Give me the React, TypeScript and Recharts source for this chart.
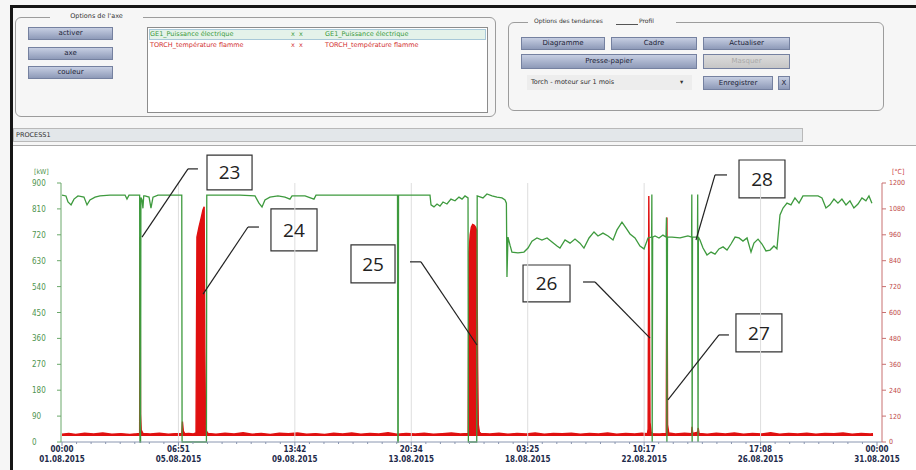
import { Area, ComposedChart, Line, ReferenceArea, ReferenceLine, XAxis, YAxis } from "recharts";

// time axis in hours from 01.08.2015 00:00 to 31.08.2015 00:00
const HOURS = 720;
const timeLabels = ["00:00", "06:51", "13:42", "20:34", "03:25", "10:17", "17:08", "00:00"];
const dateLabels = ["01.08.2015", "05.08.2015", "09.08.2015", "13.08.2015", "18.08.2015", "22.08.2015", "26.08.2015", "31.08.2015"];
const kwTicks = [0, 90, 180, 270, 360, 450, 540, 630, 720, 810, 900];
const tempTicks = [0, 120, 240, 360, 480, 600, 720, 840, 960, 1080, 1200];

// GE1_Puissance électrique [kW] : [hour, kW]
const power: [number, number][] = [
  [0, 858], [3.5, 855], [5.3, 834], [8, 824], [10.6, 844], [14.1, 855], [19.4, 851], [22.1, 824],
  [24.7, 841], [29.2, 851], [33.6, 855], [42.4, 858], [55.7, 858], [57.4, 844], [59.2, 858],
  [68.6, 858], [68.9, 0], [69.4, 0], [69.7, 850], [70.7, 841], [71.5, 812], [72.2, 855], [73.3, 855],
  [76.9, 851], [78.6, 813], [80.4, 851], [84.8, 858], [105.8, 858], [106.1, 0], [127.6, 0], [127.9, 858],
  [157.2, 858], [170.5, 855], [174, 830], [176.7, 817], [179.3, 841], [183.7, 851], [190.8, 855],
  [197, 851], [201.4, 844], [203.2, 855], [214.7, 855], [222.6, 844], [224.4, 858], [296.4, 858],
  [296.7, 0], [297, 0], [297.3, 858], [325.1, 858], [326, 824], [328.6, 817], [331.3, 827], [333.9, 820],
  [336.6, 834], [340.1, 827], [343.6, 844], [347.2, 838], [350.7, 851], [353.4, 844], [356, 855],
  [358.7, 848], [359, 0], [366.4, 0], [366.8, 855], [371.9, 848], [375.4, 862], [379.9, 855],
  [384.3, 851], [388.7, 848], [391.4, 841], [392.6, 830], [393.1, 573], [394, 712], [395.8, 684],
  [397.5, 660], [402.8, 657], [408.1, 660], [411.7, 674], [415.2, 698], [419.6, 709], [424, 702],
  [428.5, 709], [432.9, 695], [437.3, 681], [439.9, 674], [444.4, 702], [448.8, 691], [453.2, 705],
  [457.6, 691], [461.1, 674], [465.6, 709], [470, 730], [473.5, 716], [477.9, 726], [482.4, 716],
  [486.8, 702], [490.3, 737], [494.7, 764], [498.2, 744], [501.8, 723], [506.2, 709], [510.6, 681],
  [514.2, 671], [517.7, 709], [520.9, 712], [521.1, 860], [521.4, 0], [521.8, 712], [523.9, 716],
  [527.4, 709], [530.9, 719], [533.6, 712], [534, 780], [534.4, 0], [534.9, 712], [538.9, 712],
  [546, 709], [553, 716], [556.2, 712], [556.4, 860], [556.7, 0], [557, 712], [561.4, 712],
  [561.6, 860], [561.9, 0], [562.2, 712], [563.6, 702], [566.3, 674], [569.8, 650], [573.4, 660],
  [576.9, 653], [580.4, 671], [584, 678], [587.5, 667], [591, 688], [594.6, 712], [598.1, 709],
  [601.6, 698], [605.2, 709], [608.7, 660], [611.3, 691], [614.9, 705], [618.4, 688], [621.9, 664],
  [625.5, 667], [629, 681], [631.6, 671], [634.3, 789], [637, 813], [640.5, 830], [644, 824],
  [647.5, 848], [651.1, 830], [654.6, 855], [660.8, 855], [667.9, 855], [671.4, 848], [674.9, 813],
  [678.4, 824], [682, 844], [685.5, 830], [689, 844], [692.6, 824], [696.1, 838], [699.6, 813],
  [703.2, 827], [706.7, 848], [710.2, 838], [712.9, 855], [715.5, 830],
];

// TORCH_température flamme [°C] : [hour, °C]
const temperature: [number, number][] = [
  [0, 36], [6, 40], [12, 35], [20, 41], [28, 37], [36, 42], [44, 36], [52, 39], [60, 35], [66, 38],
  [68.6, 40], [69, 950], [69.4, 130], [70, 55], [71.5, 40], [78, 37], [86, 41], [94, 36], [100, 39],
  [105.8, 38], [106.4, 95], [107.2, 50], [108.5, 38], [112, 40], [116, 37], [118.4, 42],
  [119.2, 950], [121, 995], [122.8, 1035], [124.5, 1075], [125.6, 1090], [126.2, 420], [126.8, 90],
  [127.6, 50], [129, 40], [136, 36], [144, 41], [152, 37], [160, 43], [168, 36], [176, 40], [184, 35],
  [192, 41], [200, 38], [208, 42], [216, 36], [224, 39], [232, 35], [240, 41], [248, 37], [256, 42],
  [264, 36], [272, 40], [280, 37], [288, 43], [296, 36], [304, 40], [312, 37], [320, 41], [328, 36],
  [336, 39], [344, 42], [352, 37], [358.8, 40], [359.6, 880], [360.6, 960], [361.6, 995],
  [362.8, 1008], [364.2, 1004], [365.4, 995], [366.4, 980], [367.2, 350], [367.8, 80], [368.8, 45],
  [370, 40], [378, 37], [386, 41], [394, 36], [402, 40], [410, 37], [418, 42], [426, 36], [434, 40],
  [442, 38], [450, 41], [458, 36], [466, 40], [474, 37], [482, 42], [490, 36], [498, 40], [506, 37],
  [512, 41], [517.2, 38], [517.8, 60], [518.4, 1140], [518.9, 700], [519.5, 90], [520.5, 45],
  [522, 39], [528, 37], [533.8, 40], [534.4, 1040], [535, 80], [536, 42], [542, 37], [550, 41],
  [556.2, 38], [556.6, 70], [557.2, 40], [561.6, 45], [562, 65], [562.8, 40], [570, 36], [578, 41],
  [586, 37], [594, 42], [602, 36], [610, 40], [618, 37], [626, 43], [634, 36], [642, 40], [650, 37],
  [658, 41], [666, 36], [674, 40], [682, 38], [690, 42], [698, 36], [706, 40], [714, 37], [716.5, 39],
];

// numbered callouts: box [t1, t2, kW1, kW2] and leader polyline in [hour, kW]
const callouts = [
  { label: "23", box: [128.1, 167.9, 876, 997], leader: [[120.1, 949], [111.3, 949], [70.7, 712]] },
  { label: "24", box: [184.6, 225.3, 664, 810], leader: [[174, 747], [164.3, 747], [124.6, 514]] },
  { label: "25", box: [255.3, 294.2, 553, 685], leader: [[307.4, 626], [317.1, 626], [366.6, 337]] },
  { label: "26", box: [407.3, 448.8, 487, 615], leader: [[460.3, 556], [470.9, 556], [519.5, 361]] },
  { label: "27", box: [595.4, 636, 313, 445], leader: [[589.2, 372], [580.4, 372], [535.3, 146]] },
  { label: "28", box: [598.1, 638.7, 848, 980], leader: [[587.5, 928], [576.9, 928], [560.1, 702]] },
];

const MINOR = 8;
const majorStep = HOURS / (timeLabels.length - 1);
const xTicks = Array.from({ length: (timeLabels.length - 1) * MINOR + 1 }, (_, i) => (i * majorStep) / MINOR);
const gridTimes = timeLabels.slice(1, -1).map((_, i) => (i + 1) * majorStep);

const powerData = power.map(([t, kw]) => ({ t, kw }));
const tempData = temperature.map(([t, temp]) => ({ t, temp }));

const axisFont = "'Liberation Sans Narrow', 'DejaVu Sans Condensed', 'DejaVu Sans', sans-serif";
const uiFont = "'DejaVu Sans', sans-serif";

function TimeTick(props: any) {
  const { x, y, payload } = props;
  const i = Math.round((payload.value / majorStep) * MINOR);
  const major = i % MINOR === 0;
  const k = i / MINOR;
  return (
    <g>
      <line x1={x} x2={x} y1={y} y2={y + (major ? 4 : 2)} stroke="#8a96b0" />
      {major && (
        <text fontFamily={axisFont} fontSize={8} fontWeight={700} fill="#1d2a4a" textAnchor="middle">
          <tspan x={x} y={y + 10}>{timeLabels[k]}</tspan>
          <tspan x={x} y={y + 20}>{dateLabels[k]}</tspan>
        </text>
      )}
    </g>
  );
}

function KwTick(props: any) {
  const { x, y, payload } = props;
  return (
    <text x={x - 23} y={y + 3} fontFamily={axisFont} fontSize={8} fill="#4f944f" textAnchor="start">
      {payload.value}
    </text>
  );
}

function Btn({ left, top, width, height = 13, text, disabled = false }: any) {
  return (
    <div
      style={{
        position: "absolute", left, top, width, height, boxSizing: "border-box",
        border: "1px solid #7581a0",
        background: disabled ? "linear-gradient(#dcdcdc,#c6c6c6)" : "linear-gradient(#c6cee2,#8e9ab8)",
        color: disabled ? "#a9a9a9" : "#1c2336", fontSize: 7, lineHeight: `${height - 2}px`, textAlign: "center",
      }}
    >
      {text}
    </div>
  );
}

export default function App() {
  const abs = (s: any) => ({ position: "absolute" as const, ...s });
  return (
    <div style={{ position: "fixed", left: 0, top: 0, width: 916, height: 470, overflow: "hidden", background: "#f6f6f6", fontFamily: uiFont }}>
      {/* window frame */}
      <div style={abs({ left: 10, top: 5, width: 906, height: 3, background: "#151515", borderTopLeftRadius: 4 })} />
      <div style={abs({ left: 10, top: 5, width: 3, height: 465, background: "#151515" })} />

      {/* Options de l'axe */}
      <div style={abs({ left: 15, top: 17, width: 481, height: 100, border: "1px solid #9c9c9c", borderRadius: 6, boxSizing: "border-box" })} />
      <div style={abs({ left: 50, top: 12, width: 93, height: 10, background: "#f6f6f6", fontSize: 6.5, color: "#333", textAlign: "center" })}>
        Options de l'axe
      </div>
      <Btn left={28} top={27} width={85} text="activer" />
      <Btn left={28} top={47} width={85} text="axe" />
      <Btn left={28} top={66} width={85} text="couleur" />
      <div style={abs({ left: 147, top: 27, width: 341, height: 86, border: "1px solid #8c8c8c", background: "#fff", boxSizing: "border-box" })}>
        <div style={abs({ left: 1, top: 1, width: 337, height: 11, background: "#e4f2ea", border: "1px solid #a8c8d8", boxSizing: "border-box" })} />
        {[
          { top: 2, color: "#3b9a3b", name: "GE1_Puissance électrique" },
          { top: 13, color: "#d23030", name: "TORCH_température flamme" },
        ].map((r) => (
          <div key={r.name} style={abs({ left: 0, top: r.top, width: 339, height: 10, fontSize: 6.5, color: r.color })}>
            <span style={abs({ left: 2, top: 0 })}>{r.name}</span>
            <span style={abs({ left: 143, top: 0 })}>x&nbsp;&nbsp;x</span>
            <span style={abs({ left: 177, top: 0 })}>{r.name}</span>
          </div>
        ))}
      </div>

      {/* Options des tendances */}
      <div style={abs({ left: 508, top: 22, width: 376, height: 89, border: "1px solid #9c9c9c", borderRadius: 6, boxSizing: "border-box" })} />
      <div style={abs({ left: 528, top: 17, width: 148, height: 10, background: "#f6f6f6", fontSize: 6, color: "#333" })}>
        <span style={abs({ left: 6, top: 0 })}>Options des tendances</span>
        <span style={abs({ left: 88, top: 7, width: 22, height: 1, background: "#555" })} />
        <span style={abs({ left: 111, top: 0 })}>Profil</span>
      </div>
      <Btn left={521} top={37} width={84} text="Diagramme" />
      <Btn left={611} top={37} width={86} text="Cadre" />
      <Btn left={703} top={37} width={87} text="Actualiser" />
      <Btn left={521} top={54} width={176} height={15} text="Presse-papier" />
      <Btn left={703} top={54} width={87} height={15} text="Masquer" disabled />
      <div style={abs({ left: 527, top: 75, width: 165, height: 15, background: "#ededed", fontSize: 6.5, color: "#333", lineHeight: "15px" })}>
        <span style={{ marginLeft: 4 }}>Torch - moteur sur 1 mois</span>
        <span style={abs({ left: 153, top: 0 })}>▾</span>
      </div>
      <Btn left={703} top={76} width={70} height={14} text="Enregistrer" />
      <Btn left={778} top={76} width={12} height={14} text="X" />

      {/* process bar */}
      <div style={abs({ left: 13, top: 128, width: 790, height: 14, background: "#e3e7ea", border: "1px solid #b9b9b9", boxSizing: "border-box", fontSize: 6.5, color: "#333", lineHeight: "12px", paddingLeft: 2 })}>
        PROCESS1
      </div>

      {/* chart area */}
      <div style={abs({ left: 13, top: 145, width: 903, height: 325, background: "#fff", borderTop: "1px solid #aaa", boxSizing: "border-box" })} />
      <div style={abs({ left: 34, top: 168, fontSize: 7, color: "#4f944f", fontFamily: axisFont })}>[kW]</div>
      <div style={abs({ left: 892, top: 168, fontSize: 7, color: "#c44", fontFamily: axisFont })}>[°C]</div>

      <div style={abs({ left: 10, top: 145 })}>
        <ComposedChart width={902} height={325} margin={{ top: 38, right: 0, bottom: 0, left: 0 }}>
          <XAxis
            type="number"
            dataKey="t"
            domain={[0, HOURS]}
            ticks={xTicks}
            interval={0}
            padding={{ left: 1, right: 5 }}
            height={28}
            stroke="#8a96b0"
            tickLine={false}
            tickSize={0}
            tickMargin={0}
            tick={TimeTick}
          />
          <YAxis
            yAxisId="kw"
            orientation="left"
            width={51}
            domain={[0, 900]}
            ticks={kwTicks}
            interval={0}
            stroke="#6aa86a"
            tickSize={4}
            tick={KwTick}
          />
          <YAxis
            yAxisId="temp"
            orientation="right"
            width={30}
            domain={[0, 1200]}
            ticks={tempTicks}
            interval={0}
            stroke="#c87070"
            tickSize={4}
            tickMargin={3}
            tick={{ fill: "#c04848", fontSize: 7, fontFamily: axisFont }}
          />
          {gridTimes.map((t) => (
            <ReferenceLine key={t} yAxisId="kw" x={t} stroke="#dedede" strokeWidth={1} />
          ))}
          <Line
            yAxisId="kw"
            data={powerData}
            dataKey="kw"
            type="linear"
            stroke="#3e9a3e"
            strokeWidth={1.3}
            dot={false}
            isAnimationActive={false}
          />
          <Area
            yAxisId="temp"
            data={tempData}
            dataKey="temp"
            type="linear"
            baseValue={28}
            stroke="#e01010"
            strokeWidth={1.4}
            fill="#e01010"
            fillOpacity={1}
            dot={false}
            isAnimationActive={false}
          />
          {callouts.map((c) =>
            c.leader.slice(1).map((p, i) => (
              <ReferenceLine
                key={c.label + i}
                yAxisId="kw"
                ifOverflow="visible"
                segment={[{ x: c.leader[i][0], y: c.leader[i][1] }, { x: p[0], y: p[1] }]}
                stroke="#222"
                strokeWidth={1.2}
              />
            ))
          )}
          {callouts.map((c) => (
            <ReferenceArea
              key={c.label}
              yAxisId="kw"
              ifOverflow="visible"
              x1={c.box[0]}
              x2={c.box[1]}
              y1={c.box[2]}
              y2={c.box[3]}
              fill="#fff"
              fillOpacity={1}
              stroke="#333"
              strokeWidth={1.2}
              label={{ value: c.label, position: "center", fontSize: 19, fill: "#222", fontFamily: "'Open Sans', sans-serif" }}
            />
          ))}
        </ComposedChart>
      </div>
    </div>
  );
}
